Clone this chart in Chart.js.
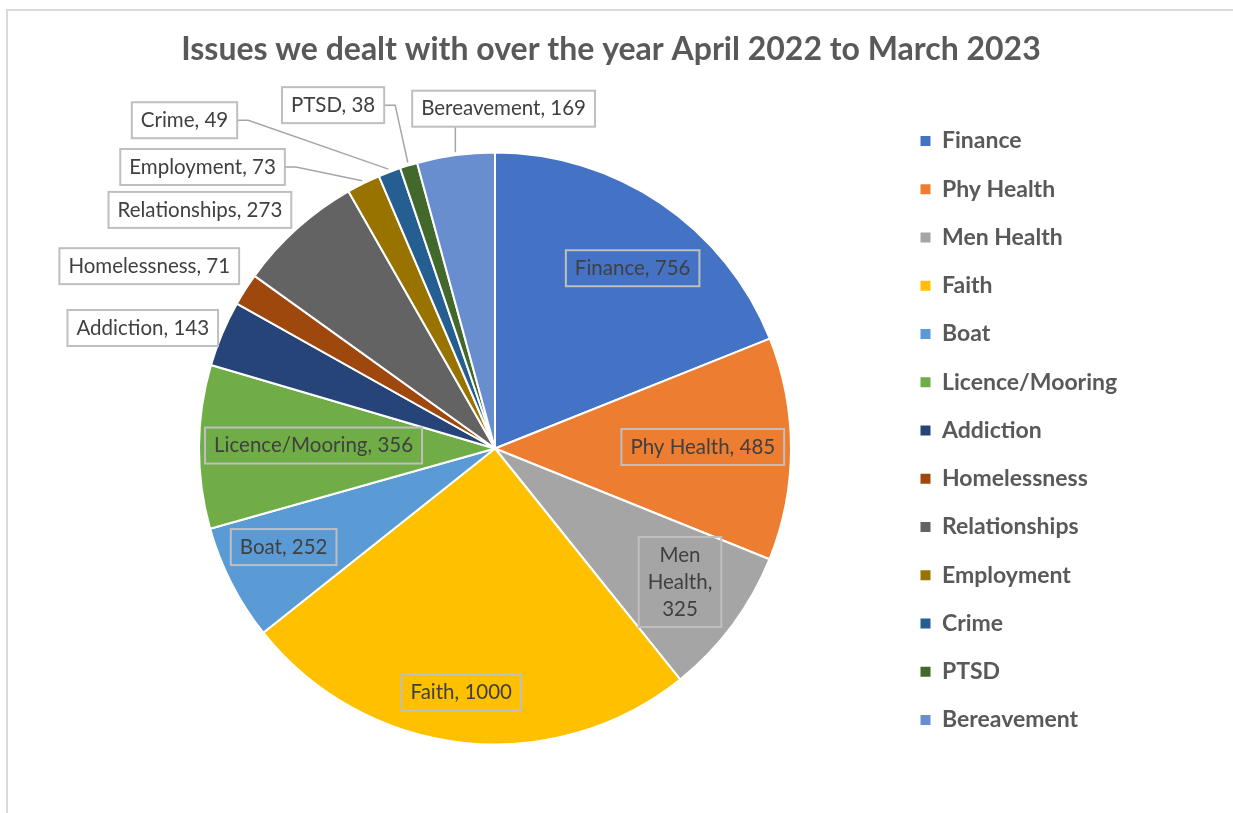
<!DOCTYPE html>
<html>
<head>
<meta charset="utf-8">
<title>Issues April 2022 - March 2023</title>
<script src="https://cdn.jsdelivr.net/npm/chart.js@4.4.1/dist/chart.umd.min.js"></script>
<style>
  html, body { margin: 0; padding: 0; background: #fff; }
  #wrap { position: relative; width: 1233px; height: 813px; overflow: hidden; }
  #frame {
    position: absolute; left: 6px; top: 9px; right: 0; bottom: 0;
    border-left: 2px solid #d9d9d9; border-top: 2px solid #d9d9d9;
  }
  #chart { position: absolute; left: 0; top: 0; }
</style>
</head>
<body>
<div id="wrap">
  <div id="frame"></div>
  <canvas id="chart" width="1233" height="813"></canvas>
</div>
<script>
const chartTitle = 'Issues we dealt with over the year April 2022 to March 2023';

const categories = [
  'Finance', 'Phy Health', 'Men Health', 'Faith', 'Boat', 'Licence/Mooring',
  'Addiction', 'Homelessness', 'Relationships', 'Employment', 'Crime', 'PTSD', 'Bereavement'
];
const counts = [756, 485, 325, 1000, 252, 356, 143, 71, 273, 73, 49, 38, 169];

const sliceColors = [
  '#4472c4', '#ed7d31', '#a5a5a5', '#ffc000', '#5b9bd5', '#70ad47',
  '#264478', '#9e480e', '#636363', '#997300', '#255e91', '#43682b', '#698ed0'
];

// label boxes, offset from the pie centre in units of the radius
const labelPlacement = {
  'Finance':         { dx: 0.465,  dy: -0.609, inside: true },
  'Phy Health':      { dx: 0.702,  dy: -0.005, inside: true },
  'Men Health':      { dx: 0.625,  dy: 0.451,  inside: true, wrap: true },
  'Faith':           { dx: -0.114, dy: 0.825,  inside: true },
  'Boat':            { dx: -0.714, dy: 0.333,  inside: true },
  'Licence/Mooring': { dx: -0.613, dy: -0.010, inside: true },
  'Addiction':       { dx: -1.190, dy: -0.407 },
  'Homelessness':    { dx: -1.168, dy: -0.616 },
  'Relationships':   { dx: -0.997, dy: -0.806 },
  'Employment':      { dx: -0.988, dy: -0.951, leader: 'side' },
  'Crime':           { dx: -1.049, dy: -1.109, leader: 'side' },
  'PTSD':            { dx: -0.547, dy: -1.160, leader: 'side' },
  'Bereavement':     { dx: 0.029,  dy: -1.148, leader: 'below' }
};

const FONT = 'Lato';
const TEXT_GREY = '#595959';
const LABEL_FONT = '20.5px ' + FONT;
const LINE_H = 27;
const BOX_PAD_X = 9;
const BOX_PAD_Y = 9;

// legend / layout numbers
const LEG_SIZE = 23;
const LEG_PAD = 48.25 - LEG_SIZE;
const LEG_BOX = 10;
const PIE_R = 296;
const PIE_CX = 495, PIE_CY = 448.5;
const LEG_X = 920.5, LEG_FIRST_Y = 141;

const W = 1233, H = 813;
const areaTop = LEG_FIRST_Y - LEG_PAD - LEG_SIZE / 2;
const areaBottom = 2 * PIE_CY - areaTop;
const legendLeft = LEG_X - LEG_PAD;

// measure legend text so the legend box lands where we want it
const probe = document.createElement('canvas').getContext('2d');
probe.font = 'bold ' + LEG_SIZE + 'px ' + FONT;
const legTextW = Math.max(...categories.map(c => probe.measureText(c).width));
const legendW = LEG_PAD + LEG_BOX + LEG_SIZE / 2 + legTextW + 10;

const padLeft = 2 * PIE_CX - legendLeft;
const padRight = W - legendLeft - legendW;
const padBottom = H - areaBottom;

const titleSize = 32;
const titlePadTop = 30.5;
const titlePadBottom = areaTop - titlePadTop - titleSize * 1.2;

const sliceLabels = {
  id: 'sliceLabels',
  afterDatasetsDraw(chart) {
    const ctx = chart.ctx;
    const arcs = chart.getDatasetMeta(0).data;
    ctx.save();
    ctx.font = LABEL_FONT;
    ctx.textAlign = 'center';
    ctx.textBaseline = 'middle';
    arcs.forEach((arc, i) => {
      const place = labelPlacement[categories[i]];
      const r = arc.outerRadius;
      const cx = arc.x + place.dx * r;
      const cy = arc.y + place.dy * r;
      let lines;
      if (place.wrap) {
        const words = categories[i].split(' ');
        words[words.length - 1] += ',';
        lines = words.concat(String(counts[i]));
      } else {
        lines = [categories[i] + ', ' + counts[i]];
      }
      const w = Math.max(...lines.map(t => ctx.measureText(t).width)) + 2 * BOX_PAD_X;
      const h = lines.length * LINE_H + BOX_PAD_Y;
      const left = cx - w / 2, top = cy - h / 2;

      if (place.leader) {
        const mid = (arc.startAngle + arc.endAngle) / 2;
        const tx = arc.x + Math.cos(mid) * (r + 3);
        const ty = arc.y + Math.sin(mid) * (r + 3);
        ctx.beginPath();
        if (place.leader === 'side') {
          ctx.moveTo(left + w, cy);
          ctx.lineTo(left + w + 11, cy);
        } else {
          ctx.moveTo(tx, top + h);
        }
        ctx.lineTo(tx, ty);
        ctx.strokeStyle = '#a6a6a6';
        ctx.lineWidth = 1.5;
        ctx.stroke();
      }

      if (!place.inside) {
        ctx.fillStyle = '#ffffff';
        ctx.fillRect(left, top, w, h);
      }
      ctx.strokeStyle = '#bfbfbf';
      ctx.lineWidth = 2;
      ctx.strokeRect(left, top, w, h);

      ctx.fillStyle = '#404040';
      lines.forEach((t, k) => {
        ctx.fillText(t, cx, top + BOX_PAD_Y / 2 + LINE_H * (k + 0.5));
      });
    });
    ctx.restore();
  }
};

new Chart(document.getElementById('chart'), {
  type: 'pie',
  data: {
    labels: categories,
    datasets: [{
      data: counts,
      backgroundColor: sliceColors,
      borderColor: '#ffffff',
      borderWidth: 2,
      radius: PIE_R
    }]
  },
  options: {
    responsive: false,
    animation: false,
    layout: {
      padding: { top: 0, left: padLeft, right: padRight, bottom: padBottom }
    },
    plugins: {
      title: {
        display: true,
        text: chartTitle,
        color: TEXT_GREY,
        font: { family: FONT, size: titleSize, weight: 'bold' },
        padding: { top: titlePadTop, bottom: titlePadBottom }
      },
      legend: {
        position: 'right',
        align: 'start',
        fullSize: false,
        labels: {
          boxWidth: LEG_BOX,
          boxHeight: LEG_BOX,
          padding: LEG_PAD,
          color: TEXT_GREY,
          font: { family: FONT, size: LEG_SIZE, weight: 'bold' },
          generateLabels: () => categories.map((text, i) => ({
            text,
            fillStyle: sliceColors[i],
            strokeStyle: sliceColors[i],
            lineWidth: 0,
            fontColor: TEXT_GREY,
            hidden: false,
            index: i
          }))
        }
      },
      tooltip: { enabled: false }
    }
  },
  plugins: [sliceLabels]
});
</script>
</body>
</html>
